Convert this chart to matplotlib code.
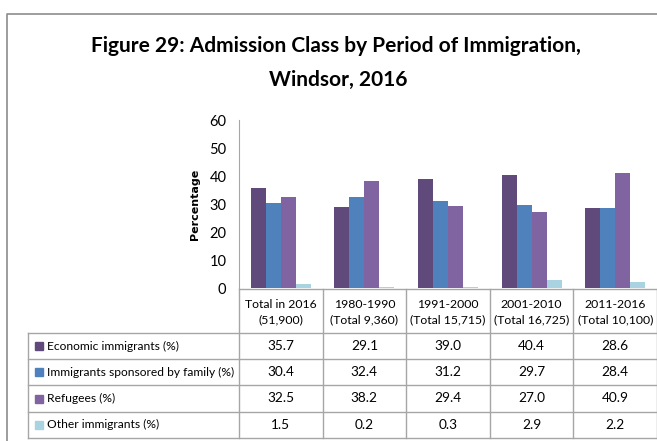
import matplotlib
matplotlib.use('Agg')
import matplotlib.pyplot as plt
import numpy as np

# data
periods = ['Total in 2016\n(51,900)', '1980-1990\n(Total 9,360)', '1991-2000\n(Total 15,715)',
           '2001-2010\n(Total 16,725)', '2011-2016\n(Total 10,100)']
classes = ['Economic immigrants (%)', 'Immigrants sponsored by family (%)',
           'Refugees (%)', 'Other immigrants (%)']
economic = [35.7, 29.1, 39.0, 40.4, 28.6]
family = [30.4, 32.4, 31.2, 29.7, 28.4]
refugees = [32.5, 38.2, 29.4, 27.0, 40.9]
other = [1.5, 0.2, 0.3, 2.9, 2.2]
series = [economic, family, refugees, other]
colors = ['#604A7B', '#4F81BD', '#8064A2', '#A9D3E0']

FONT = ['Lato', 'DejaVu Sans']
W, H = 657, 441
fig = plt.figure(figsize=(W / 100, H / 100), dpi=100)
fig.patch.set_facecolor('white')
renderer = fig.canvas.get_renderer()


def fit(t, width):
    # shrink/grow a text so it spans about `width` pixels
    w = t.get_window_extent(renderer).width
    t.set_fontsize(t.get_fontsize() * width / w)


# overlay axes in pixel coords for the frame, title and table
bg = fig.add_axes([0, 0, 1, 1])
bg.set_xlim(0, W)
bg.set_ylim(H, 0)
bg.axis('off')

grey = '#A6A6A6'
bg.plot([7, 7, W + 5], [H + 5, 14, 14], color='#8C8C8C', lw=1.2)

t1 = bg.text(336, 46, 'Figure 29: Admission Class by Period of Immigration,',
             ha='center', va='center', fontsize=16, fontweight='bold', family=FONT)
fit(t1, 492)
bg.text(338, 80, 'Windsor, 2016', ha='center', va='center',
        fontsize=t1.get_fontsize(), fontweight='bold', family=FONT)

# plot area
x0, x1 = 239, 657
ytop, y0 = 120, 288
ax = fig.add_axes([x0 / W, 1 - y0 / H, (x1 - x0) / W, (y0 - ytop) / H])
ax.set_facecolor('none')
n = len(periods)
xs = np.arange(n)
bw = 0.18
for i, (vals, c) in enumerate(zip(series, colors)):
    ax.bar(xs + (i - 1.5) * bw, vals, width=bw, color=c, zorder=2)
ax.set_xlim(-0.5, n - 0.5)
ax.set_ylim(0, 60)
ax.set_yticks(range(0, 61, 10))
ax.set_xticks([])
for s in ['top', 'right', 'bottom']:
    ax.spines[s].set_visible(False)
ax.spines['left'].set_color(grey)
ax.tick_params(axis='y', length=0, pad=9, labelsize=10.5)
for lab in ax.get_yticklabels():
    lab.set_family(FONT)
ax.set_ylabel('Percentage', fontsize=8, fontweight='bold', labelpad=7)

# data table
col_w = (x1 - x0) / n
tab_left = 28
head_top, head_bot = 289, 333
row_h = 26.2
tab_bot = head_bot + row_h * len(classes)

bg.plot([x0, x1 + 5], [head_top, head_top], color=grey, lw=1)
for k in range(n + 1):
    xx = x0 + k * col_w
    bg.plot([xx, xx], [head_top, tab_bot], color=grey, lw=1)
for r in range(len(classes) + 1):
    yy = head_bot + r * row_h
    bg.plot([tab_left, x1 + 5], [yy, yy], color=grey, lw=1)
bg.plot([tab_left, tab_left], [head_bot, tab_bot], color=grey, lw=1)

probe = bg.text(0, 0, classes[1], fontsize=10, family=FONT)
fit(probe, 187)
fs = probe.get_fontsize()
probe.remove()

probe = bg.text(0, 0, '(Total 16,725)', fontsize=10, family=FONT)
fit(probe, 76)
fs_head = probe.get_fontsize()
probe.remove()

for k, p in enumerate(periods):
    bg.text(x0 + (k + 0.5) * col_w, (head_top + head_bot) / 2 + 1, p, ha='center',
            va='center', fontsize=fs_head, family=FONT, linespacing=1.45)

for r, (name, vals, c) in enumerate(zip(classes, series, colors)):
    yc = head_bot + (r + 0.5) * row_h
    bg.add_patch(plt.Rectangle((35, yc - 4), 8, 8, color=c))
    bg.text(47, yc, name, ha='left', va='center', fontsize=fs, family=FONT)
    for k, v in enumerate(vals):
        bg.text(x0 + (k + 0.5) * col_w, yc, f'{v:.1f}', ha='center', va='center',
                fontsize=fs_head + 1, family=FONT)

fig.savefig('out.png', dpi=100, facecolor='white')
